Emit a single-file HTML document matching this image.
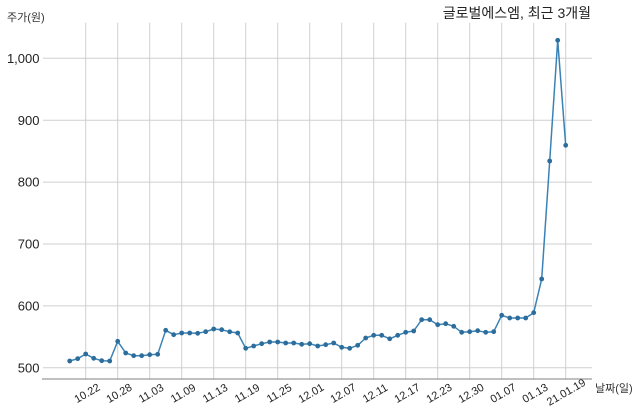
<!DOCTYPE html>
<html><head><meta charset="utf-8">
<style>
html,body{margin:0;padding:0;background:#fff;}
svg{display:block;font-family:"Liberation Sans","Noto Sans CJK KR",sans-serif;}
</style></head>
<body>
<svg width="640" height="419" viewBox="0 0 640 419" xmlns="http://www.w3.org/2000/svg">
<rect width="640" height="419" fill="#fff"/>
<g stroke="#cfcfcf" stroke-width="1">
<line x1="43" y1="58.3" x2="592" y2="58.3"/>
<line x1="43" y1="120.2" x2="592" y2="120.2"/>
<line x1="43" y1="182.1" x2="592" y2="182.1"/>
<line x1="43" y1="244" x2="592" y2="244"/>
<line x1="43" y1="305.9" x2="592" y2="305.9"/>
<line x1="43" y1="367.8" x2="592" y2="367.8"/>
<line x1="85.7" y1="22.7" x2="85.7" y2="379"/>
<line x1="117.7" y1="22.7" x2="117.7" y2="379"/>
<line x1="149.7" y1="22.7" x2="149.7" y2="379"/>
<line x1="181.7" y1="22.7" x2="181.7" y2="379"/>
<line x1="213.7" y1="22.7" x2="213.7" y2="379"/>
<line x1="245.7" y1="22.7" x2="245.7" y2="379"/>
<line x1="277.7" y1="22.7" x2="277.7" y2="379"/>
<line x1="309.7" y1="22.7" x2="309.7" y2="379"/>
<line x1="341.7" y1="22.7" x2="341.7" y2="379"/>
<line x1="373.7" y1="22.7" x2="373.7" y2="379"/>
<line x1="405.7" y1="22.7" x2="405.7" y2="379"/>
<line x1="437.7" y1="22.7" x2="437.7" y2="379"/>
<line x1="469.7" y1="22.7" x2="469.7" y2="379"/>
<line x1="501.7" y1="22.7" x2="501.7" y2="379"/>
<line x1="533.7" y1="22.7" x2="533.7" y2="379"/>
<line x1="565.7" y1="22.7" x2="565.7" y2="379"/>
</g>
<line x1="42" y1="379" x2="592" y2="379" stroke="#9a9a9a" stroke-width="1.2"/>

<g font-size="13" fill="#222" text-anchor="end">
<text x="39.5" y="63">1,000</text>
<text x="39.5" y="124.8">900</text>
<text x="39.5" y="186.7">800</text>
<text x="39.5" y="248.6">700</text>
<text x="39.5" y="310.5">600</text>
<text x="39.5" y="372.4">500</text>
</g>
<text x="7" y="21" font-size="11" fill="#333">주가(원)</text>
<text x="595" y="392" font-size="11" fill="#333">날짜(일)</text>
<text x="591" y="18" font-size="14" fill="#222" text-anchor="end">글로벌에스엠, 최근 3개월</text>

<g font-size="11" fill="#222" text-anchor="middle">
<text transform="translate(87,393) rotate(-30)" dy="0.35em">10.22</text>
<text transform="translate(119,393) rotate(-30)" dy="0.35em">10.28</text>
<text transform="translate(151,393) rotate(-30)" dy="0.35em">11.03</text>
<text transform="translate(183,393) rotate(-30)" dy="0.35em">11.09</text>
<text transform="translate(215,393) rotate(-30)" dy="0.35em">11.13</text>
<text transform="translate(247,393) rotate(-30)" dy="0.35em">11.19</text>
<text transform="translate(279,393) rotate(-30)" dy="0.35em">11.25</text>
<text transform="translate(311,393) rotate(-30)" dy="0.35em">12.01</text>
<text transform="translate(343,393) rotate(-30)" dy="0.35em">12.07</text>
<text transform="translate(375,393) rotate(-30)" dy="0.35em">12.11</text>
<text transform="translate(407,393) rotate(-30)" dy="0.35em">12.17</text>
<text transform="translate(439,393) rotate(-30)" dy="0.35em">12.23</text>
<text transform="translate(471,393) rotate(-30)" dy="0.35em">12.30</text>
<text transform="translate(503,393) rotate(-30)" dy="0.35em">01.07</text>
<text transform="translate(535,393) rotate(-30)" dy="0.35em">01.13</text>
<text transform="translate(566,392) rotate(-30)" dy="0.35em">21.01.19</text>
</g>

<polyline fill="none" stroke="#3a82b5" stroke-width="1.5" stroke-linejoin="round" points="69.7,361 77.7,358.7 85.7,354 93.7,358.3 101.7,360.7 109.7,361 117.7,341.3 125.7,353 133.7,355.7 141.7,355.7 149.7,354.7 157.7,354.3 165.7,330.3 173.7,334.7 181.7,333 189.7,333 197.7,333.3 205.7,331.7 213.7,329 221.7,329.7 229.7,331.8 237.7,333 245.7,348.3 253.7,346 261.7,343.7 269.7,342 277.7,342 285.7,343 293.7,343 301.7,344.3 309.7,343.7 317.7,346 325.7,344.7 333.7,343 341.7,347.3 349.7,348.3 357.7,345.3 365.7,338 373.7,335.3 381.7,335.3 389.7,338.8 397.7,335.3 405.7,332.3 413.7,331 421.7,319.7 429.7,319.7 437.7,324.7 445.7,323.7 453.7,326.3 461.7,332.3 469.7,331.7 477.7,330.7 485.7,332.3 493.7,331.7 501.7,315.3 509.7,318 517.7,318 525.7,318 533.7,312.7 541.7,279 549.7,161 557.7,40.3 565.7,145.3"/>
<g fill="#2d6d9c">
<circle cx="69.7" cy="361" r="2.4"/><circle cx="77.7" cy="358.7" r="2.4"/><circle cx="85.7" cy="354" r="2.4"/><circle cx="93.7" cy="358.3" r="2.4"/><circle cx="101.7" cy="360.7" r="2.4"/><circle cx="109.7" cy="361" r="2.4"/><circle cx="117.7" cy="341.3" r="2.4"/><circle cx="125.7" cy="353" r="2.4"/><circle cx="133.7" cy="355.7" r="2.4"/><circle cx="141.7" cy="355.7" r="2.4"/><circle cx="149.7" cy="354.7" r="2.4"/><circle cx="157.7" cy="354.3" r="2.4"/><circle cx="165.7" cy="330.3" r="2.4"/><circle cx="173.7" cy="334.7" r="2.4"/><circle cx="181.7" cy="333" r="2.4"/><circle cx="189.7" cy="333" r="2.4"/><circle cx="197.7" cy="333.3" r="2.4"/><circle cx="205.7" cy="331.7" r="2.4"/><circle cx="213.7" cy="329" r="2.4"/><circle cx="221.7" cy="329.7" r="2.4"/><circle cx="229.7" cy="331.8" r="2.4"/><circle cx="237.7" cy="333" r="2.4"/><circle cx="245.7" cy="348.3" r="2.4"/><circle cx="253.7" cy="346" r="2.4"/><circle cx="261.7" cy="343.7" r="2.4"/><circle cx="269.7" cy="342" r="2.4"/><circle cx="277.7" cy="342" r="2.4"/><circle cx="285.7" cy="343" r="2.4"/><circle cx="293.7" cy="343" r="2.4"/><circle cx="301.7" cy="344.3" r="2.4"/><circle cx="309.7" cy="343.7" r="2.4"/><circle cx="317.7" cy="346" r="2.4"/><circle cx="325.7" cy="344.7" r="2.4"/><circle cx="333.7" cy="343" r="2.4"/><circle cx="341.7" cy="347.3" r="2.4"/><circle cx="349.7" cy="348.3" r="2.4"/><circle cx="357.7" cy="345.3" r="2.4"/><circle cx="365.7" cy="338" r="2.4"/><circle cx="373.7" cy="335.3" r="2.4"/><circle cx="381.7" cy="335.3" r="2.4"/><circle cx="389.7" cy="338.8" r="2.4"/><circle cx="397.7" cy="335.3" r="2.4"/><circle cx="405.7" cy="332.3" r="2.4"/><circle cx="413.7" cy="331" r="2.4"/><circle cx="421.7" cy="319.7" r="2.4"/><circle cx="429.7" cy="319.7" r="2.4"/><circle cx="437.7" cy="324.7" r="2.4"/><circle cx="445.7" cy="323.7" r="2.4"/><circle cx="453.7" cy="326.3" r="2.4"/><circle cx="461.7" cy="332.3" r="2.4"/><circle cx="469.7" cy="331.7" r="2.4"/><circle cx="477.7" cy="330.7" r="2.4"/><circle cx="485.7" cy="332.3" r="2.4"/><circle cx="493.7" cy="331.7" r="2.4"/><circle cx="501.7" cy="315.3" r="2.4"/><circle cx="509.7" cy="318" r="2.4"/><circle cx="517.7" cy="318" r="2.4"/><circle cx="525.7" cy="318" r="2.4"/><circle cx="533.7" cy="312.7" r="2.4"/><circle cx="541.7" cy="279" r="2.4"/><circle cx="549.7" cy="161" r="2.4"/><circle cx="557.7" cy="40.3" r="2.4"/><circle cx="565.7" cy="145.3" r="2.4"/>
</g>
</svg>
</body></html>
